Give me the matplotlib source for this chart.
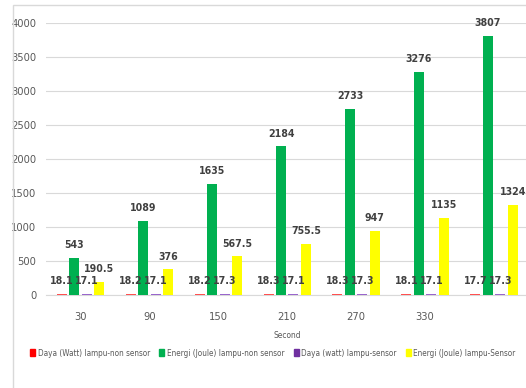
import matplotlib
matplotlib.use("Agg")
import matplotlib.pyplot as plt
import matplotlib.patches as mpatches
from matplotlib import font_manager
import numpy as np

categories = ["30", "90", "150", "210", "270", "330", ""]
daya_non = [18.1, 18.2, 18.2, 18.3, 18.3, 18.1, 17.7]
energi_non = [543, 1089, 1635, 2184, 2733, 3276, 3807]
daya_sensor = [17.1, 17.1, 17.3, 17.1, 17.3, 17.1, 17.3]
energi_sensor = [190.5, 376, 567.5, 755.5, 947, 1135, 1324]
labels_non = ["18.1", "18.2", "18.2", "18.3", "18.3", "18.1", "17.7"]
labels_sensor = ["17.1", "17.1", "17.3", "17.1", "17.3", "17.1", "17.3"]
lbl_energi_non = ["543", "1089", "1635", "2184", "2733", "3276", "3807"]
lbl_energi_sensor = ["190.5", "376", "567.5", "755.5", "947", "1135", "1324"]
series_names = ["Daya (Watt) lampu-non sensor", "Energi (Joule) lampu-non sensor",
                "Daya (watt) lampu-sensor", "Energi (Joule) lampu-Sensor"]

W, H = 526, 388
fig = plt.figure(figsize=(W / 100, H / 100), dpi=100)

# pick a narrow font if one is installed
names = {f.name for f in font_manager.fontManager.ttflist}
narrow = [n for n in ["Liberation Sans Narrow", "DejaVu Sans Condensed"] if n in names]
FONT = narrow + ["DejaVu Sans"]
STRETCH = "condensed"

# outer chart border
fig.patches.append(mpatches.Rectangle((13 / W, -0.05), 1.1, 1 - 5 / H + 0.05,
                                      transform=fig.transFigure, fill=False,
                                      edgecolor="#D9D9D9", linewidth=1.0))

left, right = 46 / W, 528.5 / W
bottom, top = 1 - 295 / H, 1 - 22.7 / H
ax = fig.add_axes([left, bottom, right - left, top - bottom])

x = np.arange(len(categories))
colors = ["#FF0000", "#00B050", "#7030A0", "#FFFF00"]
bar_colors = ["#FF5050", "#00B050", "#9966CC", "#FFFF00"]
data = [daya_non, energi_non, daya_sensor, energi_sensor]
lbls = [labels_non, lbl_energi_non, labels_sensor, lbl_energi_sensor]
step = 0.181
width = 0.145
offsets = [-1.5 * step, -0.5 * step, 0.5 * step, 1.5 * step]

for vals, c, off, lb in zip(data, bar_colors, offsets, lbls):
    ax.bar(x + off, vals, width=width, color=c, zorder=3)
    for xi, v, t in zip(x, vals, lb):
        ax.annotate(t, (xi + off, v), xytext=(0, 7), textcoords="offset points",
                    ha="center", va="baseline", fontsize=7.6, fontweight="bold",
                    fontstretch=STRETCH, color="#404040", family=FONT, zorder=5)

ax.set_xlim(-0.5, len(categories) - 0.5)
ax.set_ylim(0, 4000)
ax.set_yticks(np.arange(0, 4001, 500))
ax.set_xticks(x)
ax.set_xticklabels(categories)
ax.grid(axis="y", color="#D9D9D9", linewidth=0.8, zorder=0)
for s in ["top", "right", "left"]:
    ax.spines[s].set_visible(False)
ax.spines["bottom"].set_color("#D9D9D9")
ax.tick_params(axis="both", length=0, colors="#595959", labelsize=8)
ax.tick_params(axis="x", pad=12)
ax.tick_params(axis="y", pad=7)
for t in ax.get_xticklabels() + ax.get_yticklabels():
    t.set_family(FONT)
    t.set_fontstretch(STRETCH)

fig.text(287 / W, 1 - 335 / H, "Second", ha="center", va="center",
         fontsize=6, color="#595959", family=FONT, fontstretch=STRETCH)

handles = [mpatches.Patch(color=c, label=n) for c, n in zip(colors, series_names)]
leg = fig.legend(handles=handles, loc="center", bbox_to_anchor=(273 / W, 1 - 353 / H),
                 ncol=4, frameon=False, handlelength=0.6, handleheight=1.0,
                 handletextpad=0.3, columnspacing=1.15,
                 prop={"family": FONT, "size": 5.9, "stretch": STRETCH})
for t in leg.get_texts():
    t.set_color("#595959")

fig.savefig("out.png", dpi=100)
